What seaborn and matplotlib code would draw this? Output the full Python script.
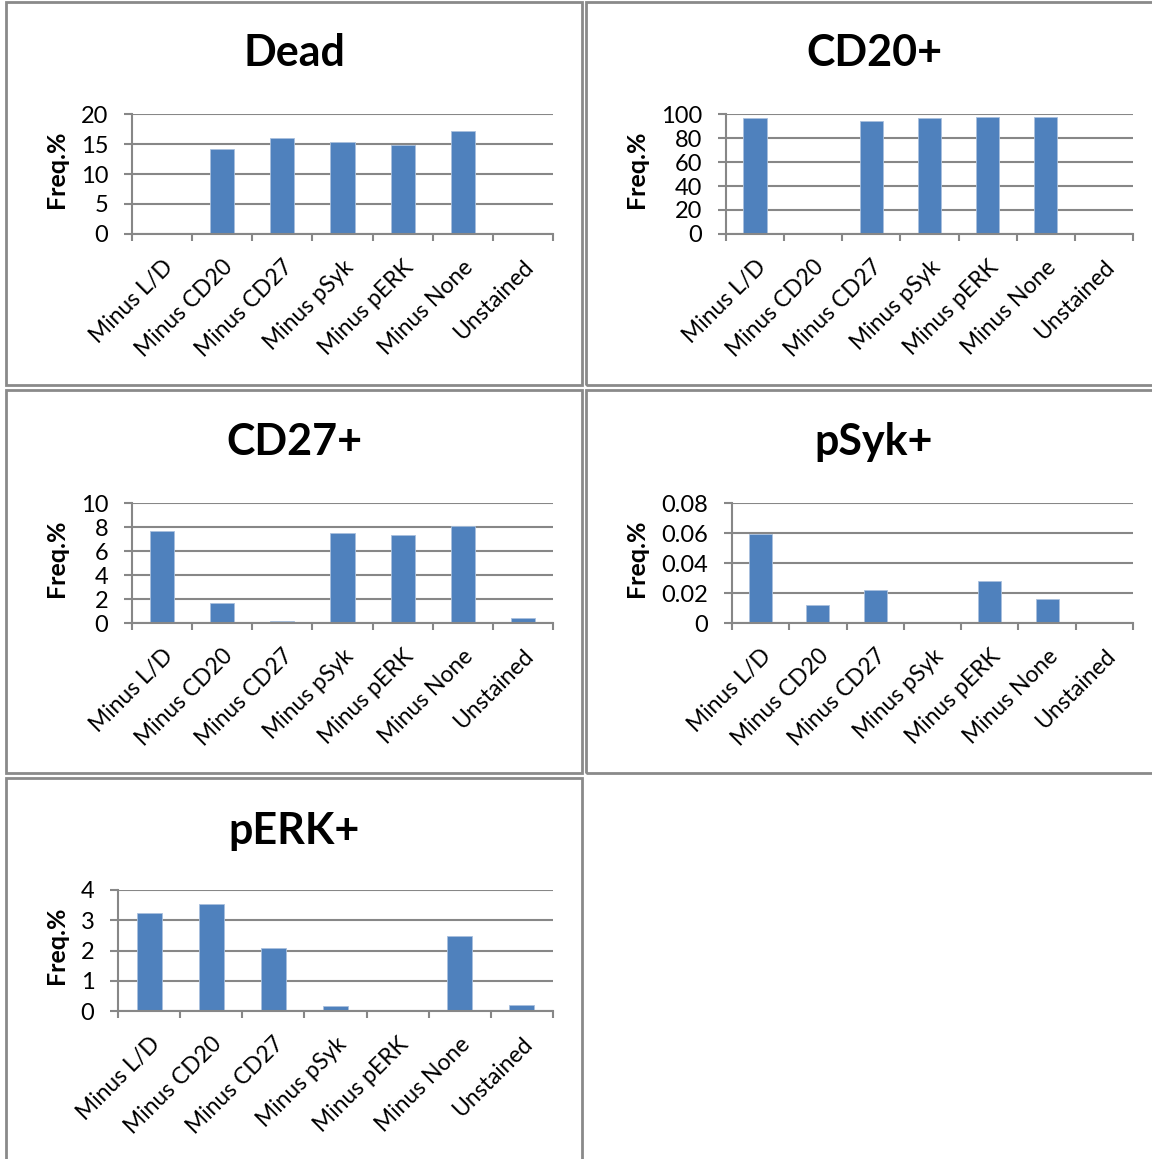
import matplotlib
matplotlib.use("Agg")
import matplotlib.pyplot as plt
import seaborn as sns
import pandas as pd
import numpy as np
from matplotlib.patches import Rectangle

categories = ["Minus L/D", "Minus CD20", "Minus CD27", "Minus pSyk",
              "Minus pERK", "Minus None", "Unstained"]

dead_vals = [0, 14.1, 16.05, 15.4, 14.8, 17.2, 0]
cd20_vals = [96.4, 0, 93.9, 96.7, 97.2, 97.2, 0]
cd27_vals = [7.67, 1.64, 0.14, 7.47, 7.33, 8.1, 0.39]
psyk_vals = [0.0596, 0.0118, 0.0222, 0, 0.0282, 0.016, 0]
perk_vals = [3.25, 3.54, 2.09, 0.155, 0, 2.48, 0.19]

titles = ["Dead", "CD20+", "CD27+", "pSyk+", "pERK+"]
y_ticks = [
    [0, 5, 10, 15, 20],
    [0, 20, 40, 60, 80, 100],
    [0, 2, 4, 6, 8, 10],
    [0, 0.02, 0.04, 0.06, 0.08],
    [0, 1, 2, 3, 4],
]
y_ticklabels = [
    ["0", "5", "10", "15", "20"],
    ["0", "20", "40", "60", "80", "100"],
    ["0", "2", "4", "6", "8", "10"],
    ["0", "0.02", "0.04", "0.06", "0.08"],
    ["0", "1", "2", "3", "4"],
]
y_label = "Freq.%"

sns.set_theme(style="white")
plt.rcParams["font.family"] = ["Lato", "DejaVu Sans"]
plt.rcParams["text.color"] = "black"

W, H = 1152, 1159
fig = plt.figure(figsize=(W / 100, H / 100), dpi=100)
fig.patch.set_facecolor("white")

# frames (pixel boxes: x0, y0, x1, y1)
frames = [(6, 2, 582, 385), (586, 2, 1160, 385), (6, 390, 582, 773),
          (586, 390, 1160, 773), (6, 778, 582, 1170)]
# axes boxes in pixels
axboxes = [(132, 114, 553, 234), (726, 114, 1133, 234), (132, 503, 553, 623),
           (732, 503, 1133, 623), (118, 890, 553, 1011)]
# title centers (x px, y px)
title_pos = [(294, 53), (874, 53), (294, 442), (874, 442), (294, 831)]
ylabel_x = [57, 637, 57, 637, 57]

for (x0, y0, x1, y1) in frames:
    fig.patches.append(Rectangle((x0 / W, 1 - y1 / H), (x1 - x0) / W, (y1 - y0) / H,
                                 transform=fig.transFigure, fill=False,
                                 edgecolor="#8a8a8a", linewidth=2.0, zorder=0))

all_vals = [dead_vals, cd20_vals, cd27_vals, psyk_vals, perk_vals]
grid_c = "#878787"
bar_c = "#4F81BD"

for i, vals in enumerate(all_vals):
    x0, y0, x1, y1 = axboxes[i]
    ax = fig.add_axes([x0 / W, 1 - y1 / H, (x1 - x0) / W, (y1 - y0) / H])
    df = pd.DataFrame({"cat": categories, "val": vals})
    sns.barplot(data=df, x="cat", y="val", color=bar_c, width=0.4,
                saturation=1, edgecolor="#a9c0dd", linewidth=0.6, ax=ax, zorder=3)
    ax.set_xlim(-0.5, len(categories) - 0.5)
    ax.set_ylim(y_ticks[i][0], y_ticks[i][-1])
    ax.set_yticks(y_ticks[i])
    ax.set_yticklabels(y_ticklabels[i], fontsize=17, color="black")
    ax.set_xticks(range(len(categories)))
    ax.set_xticklabels(categories, rotation=45, ha="right", rotation_mode="anchor",
                       fontsize=16.5, color="black")
    ax.set_xticks(np.arange(-0.5, len(categories)), minor=True)
    ax.tick_params(axis="x", which="major", length=0, pad=16)
    ax.tick_params(axis="x", which="minor", length=5, width=1.5, color=grid_c,
                   direction="out", bottom=True)
    ax.tick_params(axis="y", which="major", length=6, width=1.5, color=grid_c,
                   direction="out", left=True, pad=11)
    ax.yaxis.grid(True, color=grid_c, linewidth=1.5)
    ax.set_axisbelow(True)
    for s in ["top", "right"]:
        ax.spines[s].set_visible(False)
    for s in ["left", "bottom"]:
        ax.spines[s].set_color(grid_c)
        ax.spines[s].set_linewidth(1.5)
    ax.spines["bottom"].set_zorder(4)
    ax.set_xlabel("")
    ax.set_ylabel("")
    ax.set_facecolor("white")
    tx, ty = title_pos[i]
    fig.text(tx / W, 1 - ty / H, titles[i], ha="center", va="center",
             fontsize=31, fontweight="bold", color="black")
    ycen = (y0 + y1) / 2 - 5
    fig.text(ylabel_x[i] / W, 1 - ycen / H, y_label, ha="center", va="center",
             rotation=90, fontsize=18, fontweight="bold", color="black")

fig.savefig("out.png", dpi=100, facecolor="white")
